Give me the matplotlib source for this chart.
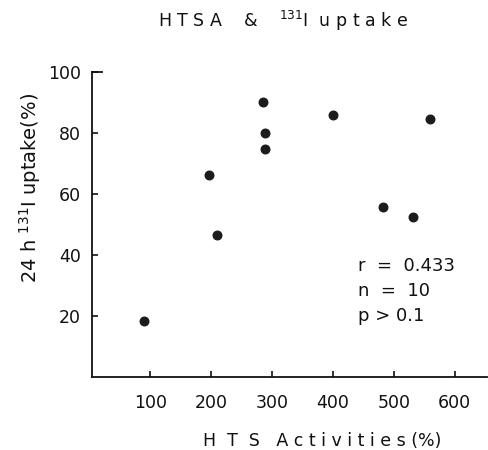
import matplotlib
matplotlib.use('Agg')
import matplotlib.pyplot as plt

# HTS activity (%) vs 24 h 131I uptake (%)
hts = [89, 197, 210, 285, 288, 289, 400, 482, 532, 559]
uptake = [18.5, 66.2, 46.7, 90.2, 79.9, 74.7, 85.9, 55.6, 52.6, 84.5]

x_ticks = [100, 200, 300, 400, 500, 600]
y_ticks = [20, 40, 60, 80, 100]
stats = ['r  =  0.433', 'n  =  10', 'p > 0.1']

plt.rcParams['font.family'] = ['DejaVu Sans']
fig = plt.figure(figsize=(4.88, 4.5), dpi=100)
ax = fig.add_axes([0.188, 0.162, 0.81, 0.678])

ax.scatter(hts, uptake, s=38, color='#1c1c1c', edgecolors='#1c1c1c', zorder=3)

ax.set_xlim(4, 653)
ax.set_ylim(0, 100)
ax.set_xticks(x_ticks)
ax.set_yticks(y_ticks)
ax.spines['top'].set_visible(False)
ax.spines['right'].set_visible(False)
for s in ['left', 'bottom']:
    ax.spines[s].set_linewidth(1.3)
    ax.spines[s].set_color('#111111')
ax.tick_params(axis='both', direction='in', length=4, width=1.2, colors='#111111', labelsize=12.5)
ax.tick_params(axis='x', pad=12)
ax.tick_params(axis='y', pad=8)
# longer corner tick at the top of the y axis
ax.axhline(100, xmin=0, xmax=0.026, color='#111111', lw=1.3, clip_on=False)

ax.text(441, 36.5, stats[0], fontsize=13, va='center', color='#111111')
ax.text(441, 28.2, stats[1], fontsize=13, va='center', color='#111111')
ax.text(441, 19.9, stats[2], fontsize=13, va='center', color='#111111')

fig.text(283 / 488, 1 - 21 / 450, 'H T S A    &    $^{131}$I  u p t a k e', fontsize=12.5,
         ha='center', va='center', color='#111111')
fig.text(322 / 488, 1 - 441 / 450, 'H  T  S   A c t i v i t i e s (%)', fontsize=12.5,
         ha='center', va='center', color='#111111')
fig.text(30 / 488, 1 - 188 / 450, '24 h $^{131}$I uptake(%)', fontsize=14,
         ha='center', va='center', rotation=90, color='#111111')

fig.savefig('out.png', dpi=100)
